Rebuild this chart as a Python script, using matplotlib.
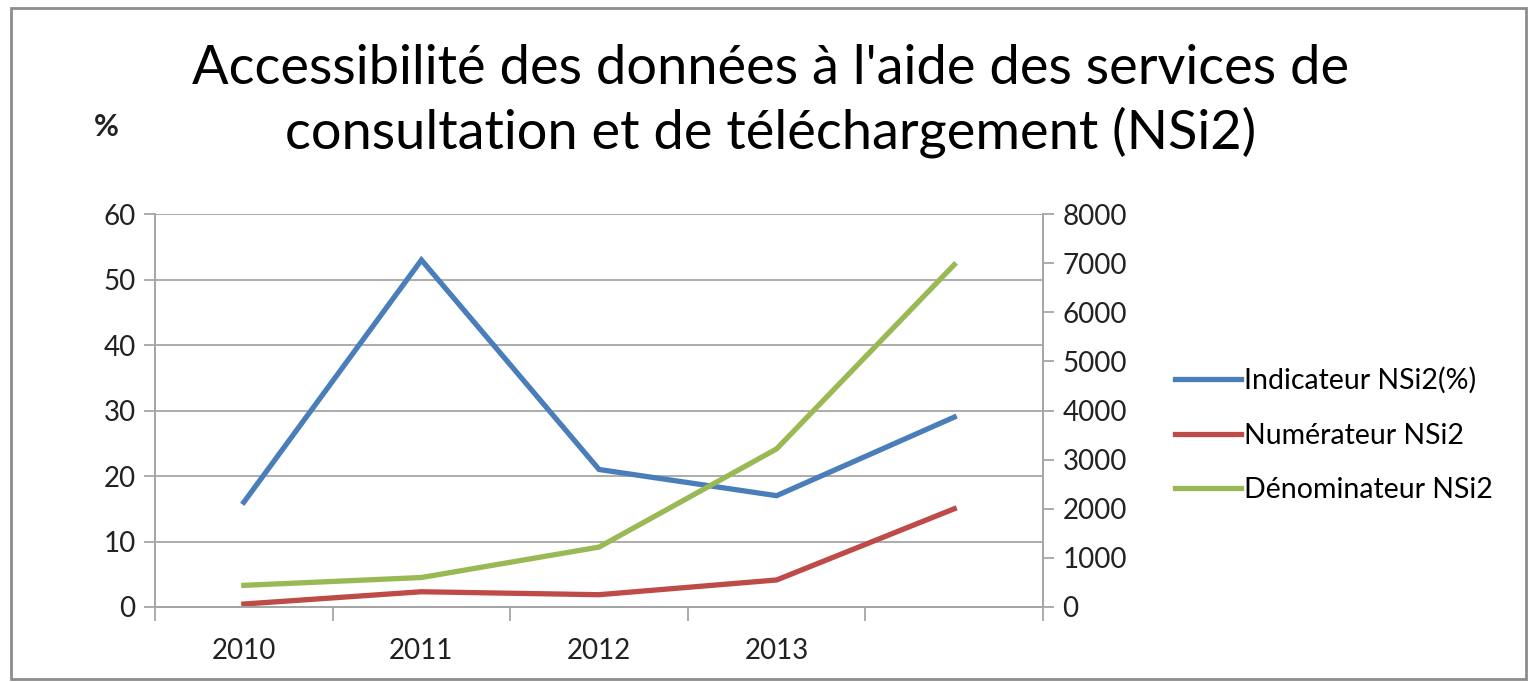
import matplotlib.pyplot as plt
from matplotlib.patches import Rectangle

# Données
annees = ['2010', '2011', '2012', '2013', '']
indicateur = [16, 53, 21, 17, 29]
numerateur = [60, 310, 250, 550, 2000]
denominateur = [440, 600, 1220, 3220, 6970]

bleu = '#4a7ebb'
rouge = '#be4b48'
vert = '#98b954'
gris = '#a6a6a6'

plt.rcParams['font.family'] = ['Lato', 'DejaVu Sans']

fig = plt.figure(figsize=(15.35, 6.82), dpi=100)
ax = fig.add_axes([0.101, 0.110, 0.5785, 0.576])
ax2 = ax.twinx()

x = list(range(len(annees)))
l1, = ax.plot(x, indicateur, color=bleu, lw=3.8, solid_joinstyle='miter', label='Indicateur NSi2(%)')
l2, = ax2.plot(x, numerateur, color=rouge, lw=3.8, solid_joinstyle='miter', label='Numérateur NSi2')
l3, = ax2.plot(x, denominateur, color=vert, lw=3.8, solid_joinstyle='miter', label='Dénominateur NSi2')

ax.set_xlim(-0.5, len(annees) - 0.5)
ax.set_ylim(0, 60)
ax.set_yticks(range(0, 61, 10))
ax2.set_ylim(0, 8000)
ax2.set_yticks(range(0, 8001, 1000))

ax.set_xticks(x)
ax.set_xticklabels(annees)
ax.set_xticks([i - 0.5 for i in range(len(annees) + 1)], minor=True)
ax.tick_params(axis='x', which='major', length=0, pad=22, labelsize=20, labelcolor='#222222')
ax.tick_params(axis='x', which='minor', length=10, color=gris, width=1.3)
ax.tick_params(axis='y', length=8, color=gris, width=1.3, labelsize=20, labelcolor='#222222', pad=6)
ax2.tick_params(axis='y', length=8, color=gris, width=1.3, labelsize=20, labelcolor='#222222', pad=6)

ax.grid(axis='y', color=gris, lw=1.3)
ax.set_axisbelow(True)
for a in (ax, ax2):
    a.spines['top'].set_visible(False)
    for s in ('left', 'right', 'bottom'):
        a.spines[s].set_color(gris)
        a.spines[s].set_linewidth(1.3)

fig.suptitle("Accessibilité des données à l'aide des services de\nconsultation et de téléchargement (NSi2)",
             x=0.502, y=0.935, fontsize=39, linespacing=1.3)
fig.text(0.061, 0.8, '%', fontsize=22, fontweight='bold', color='#222222')

fig.legend(handles=[l1, l2, l3], loc='center left', bbox_to_anchor=(0.749, 0.362),
           frameon=False, fontsize=20.5, handlelength=2.3, labelspacing=1.0, handletextpad=0.1)

# cadre autour du graphique
fig.patches.append(Rectangle((0.007, 0.005), 0.987, 0.983, transform=fig.transFigure,
                             fill=False, edgecolor='#8c8c8c', lw=2))

fig.savefig('out.png', dpi=100)
